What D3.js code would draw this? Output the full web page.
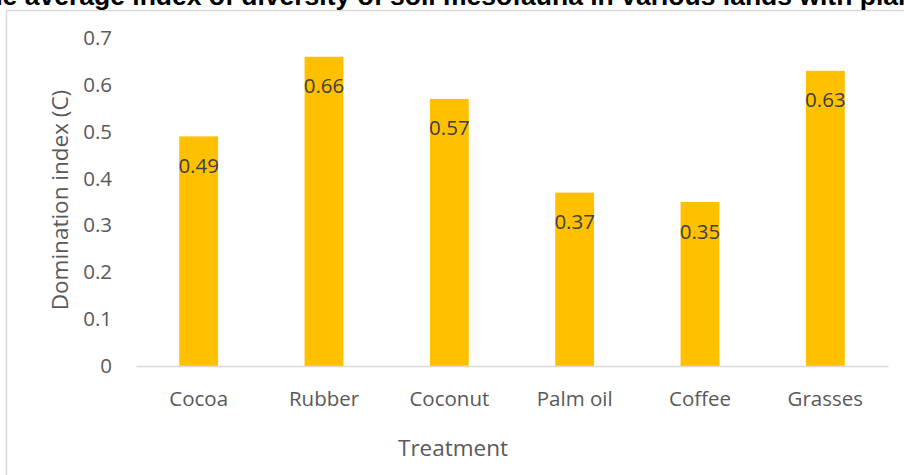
<!DOCTYPE html>
<html>
<head>
<meta charset="utf-8">
<script src="https://cdn.jsdelivr.net/npm/d3@7"></script>
<style>
  body { margin: 0; background: #fff; }
  svg { display: block; }
</style>
</head>
<body>
<div id="chart"></div>
<script>
// data
var categories = ["Cocoa", "Rubber", "Coconut", "Palm oil", "Coffee", "Grasses"];
var values = [0.49, 0.66, 0.57, 0.37, 0.35, 0.63];
var yTicks = [0, 0.1, 0.2, 0.3, 0.4, 0.5, 0.6, 0.7];
var yTickLabels = ["0", "0.1", "0.2", "0.3", "0.4", "0.5", "0.6", "0.7"];

var svgWidth = 904;
var svgHeight = 475;

var margin = { top: 38, right: 16, bottom: 109, left: 136 };
var width = svgWidth - margin.left - margin.right;
var height = svgHeight - margin.top - margin.bottom;

var svg = d3.select("#chart")
  .append("svg")
  .attr("width", svgWidth)
  .attr("height", svgHeight);

// chart frame
svg.append("rect")
  .attr("x", 6.5)
  .attr("y", 10.5)
  .attr("width", 910)
  .attr("height", 480)
  .attr("fill", "none")
  .attr("stroke", "#d9d9d9")
  .attr("stroke-width", 1.5);

// title (clipped at the top like the original)
svg.append("text")
  .attr("x", 454)
  .attr("y", 5)
  .attr("text-anchor", "middle")
  .style("font-family", "'Liberation Sans', Arial, sans-serif")
  .style("font-weight", "bold")
  .style("font-size", "26.5px")
  .attr("fill", "#000")
  .text("The average index of diversity of soil mesofauna in various lands with plants");

var chartGroup = svg.append("g")
  .attr("transform", `translate(${margin.left},${margin.top})`);

var xScale = d3.scaleBand()
  .domain(categories)
  .range([0, width])
  .paddingInner(0.69)
  .paddingOuter(0.345);

var yScale = d3.scaleLinear()
  .domain([0, 0.7])
  .range([height, 0]);

var font = "'Open Sans', 'Noto Sans', sans-serif";

// y axis (labels only)
var leftAxis = d3.axisLeft(yScale)
  .tickValues(yTicks)
  .tickFormat(function(d, i) { return yTickLabels[i]; })
  .tickSize(0)
  .tickPadding(24);

var yAxisG = chartGroup.append("g").call(leftAxis);
yAxisG.select(".domain").remove();
yAxisG.selectAll("text")
  .style("font-family", font)
  .style("font-size", "20.5px")
  .attr("fill", "#595959");

// bars
chartGroup.selectAll("rect.bar")
  .data(values)
  .enter()
  .append("rect")
  .attr("class", "bar")
  .attr("x", function(d, i) { return xScale(categories[i]); })
  .attr("y", function(d) { return yScale(d); })
  .attr("width", xScale.bandwidth())
  .attr("height", function(d) { return height - yScale(d); })
  .attr("fill", "#ffc000");

// x axis
var bottomAxis = d3.axisBottom(xScale).tickSize(0).tickPadding(25);
var xAxisG = chartGroup.append("g")
  .attr("transform", `translate(0, ${height})`)
  .call(bottomAxis);
xAxisG.select(".domain")
  .attr("stroke", "#d9d9d9")
  .attr("stroke-width", 1.5);
xAxisG.selectAll("text")
  .style("font-family", font)
  .style("font-size", "20.5px")
  .attr("fill", "#595959");

// data labels
chartGroup.selectAll("text.lbl")
  .data(values)
  .enter()
  .append("text")
  .attr("class", "lbl")
  .attr("x", function(d, i) { return xScale(categories[i]) + xScale.bandwidth() / 2; })
  .attr("y", function(d) { return yScale(d) + 36.5; })
  .attr("text-anchor", "middle")
  .style("font-family", font)
  .style("font-size", "20.5px")
  .attr("fill", "#404040")
  .text(function(d) { return d.toFixed(2); });

// axis titles
chartGroup.append("text")
  .attr("transform", "rotate(-90)")
  .attr("x", -162)
  .attr("y", -68)
  .attr("text-anchor", "middle")
  .style("font-family", font)
  .style("font-size", "22.5px")
  .attr("fill", "#595959")
  .text("Domination index (C)");

chartGroup.append("text")
  .attr("x", 453 - margin.left)
  .attr("y", height + 90)
  .attr("text-anchor", "middle")
  .style("font-family", font)
  .style("font-size", "22.5px")
  .attr("fill", "#595959")
  .text("Treatment");
</script>
</body>
</html>
